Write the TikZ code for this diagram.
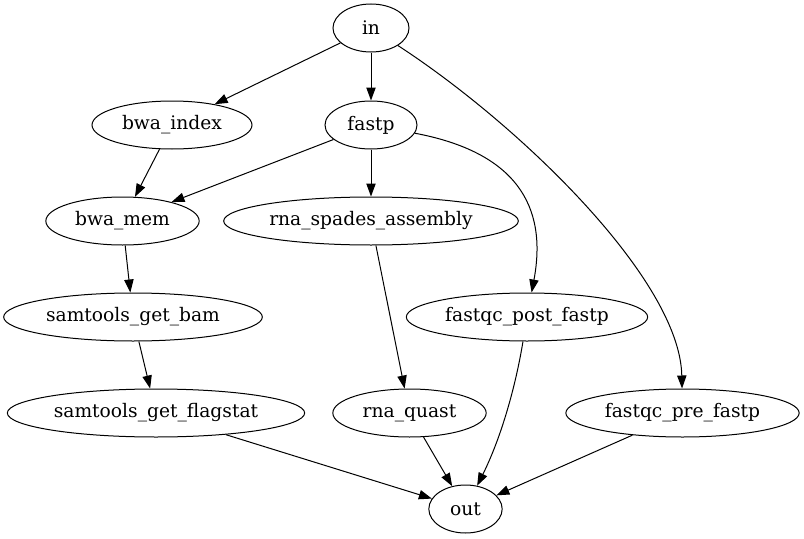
\documentclass[tikz,border=0pt]{standalone}
\usepackage{fontspec}
\setmainfont{DejaVu Serif}
\usetikzlibrary{shapes.geometric,arrows.meta}
\begin{document}
\begin{tikzpicture}[x=0.75pt,y=-0.75pt,
  nd/.style={draw,ellipse,inner sep=0pt,minimum height=36pt,font=\fontsize{14pt}{16pt}\selectfont,line width=0.75pt},
  ar/.style={-{Triangle[length=9.75pt,width=7pt]},line width=0.75pt}]
\useasboundingbox (0,0) rectangle (804,539);
\node[nd,minimum width=57pt] (in) at (371,28) {in};
\node[nd,minimum width=120pt] (bwai) at (172,125) {bwa\_index};
\node[nd,minimum width=69pt] (fastp) at (371,125) {fastp};
\node[nd,minimum width=115pt] (bwam) at (122.5,221) {bwa\_mem};
\node[nd,minimum width=221pt] (rsa) at (371,221) {rna\_spades\_assembly};
\node[nd,minimum width=194pt] (sgb) at (133,317) {samtools\_get\_bam};
\node[nd,minimum width=181pt] (fqpost) at (527,317) {fastqc\_post\_fastp};
\node[nd,minimum width=223pt] (sgf) at (156,413) {samtools\_get\_flagstat};
\node[nd,minimum width=115pt] (rq) at (409.5,413) {rna\_quast};
\node[nd,minimum width=175pt] (fqpre) at (682.5,413) {fastqc\_pre\_fastp};
\node[nd,minimum width=55pt] (out) at (465.5,509) {out};
\draw[ar] (in) -- (bwai);
\draw[ar] (in) -- (fastp);
\draw[ar] (in) .. controls (520,125) and (680,280) .. (fqpre);
\draw[ar] (bwai) -- (bwam);
\draw[ar] (fastp) -- (bwam);
\draw[ar] (fastp) -- (rsa);
\draw[ar] (fastp) .. controls (515,152) and (548,205) .. (fqpost);
\draw[ar] (bwam) -- (sgb);
\draw[ar] (rsa) -- (rq);
\draw[ar] (sgb) -- (sgf);
\draw[ar] (sgf) -- (out);
\draw[ar] (rq) -- (out);
\draw[ar] (fqpost) .. controls (515,390) and (500,440) .. (out);
\draw[ar] (fqpre) -- (out);
\end{tikzpicture}
\end{document}
